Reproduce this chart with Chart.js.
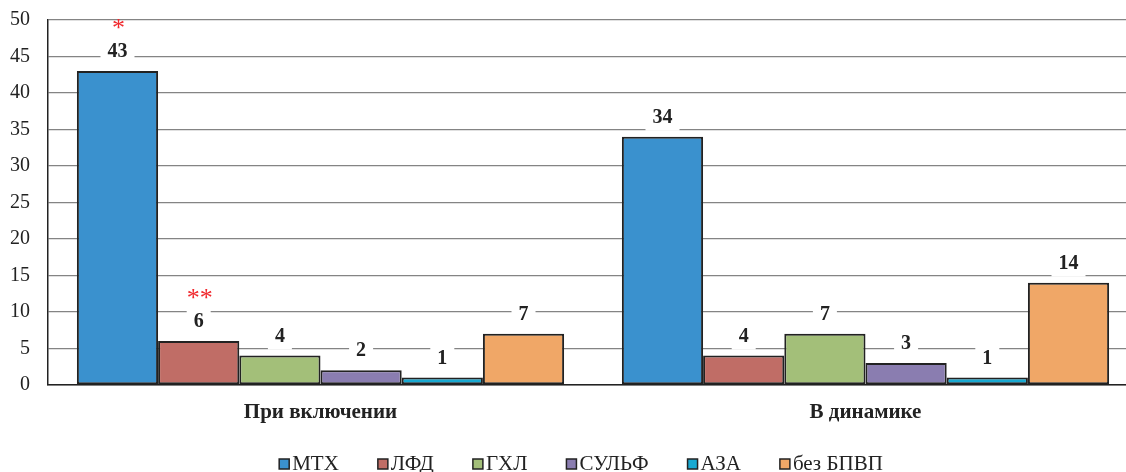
<!DOCTYPE html>
<html>
<head>
<meta charset="utf-8">
<script src="https://cdn.jsdelivr.net/npm/chart.js@4.4.1/dist/chart.umd.min.js"></script>
<style>
  html, body { margin: 0; padding: 0; background: #fff; overflow: hidden; }
  #wrap { width: 1140px; height: 482px; margin-top: -10px; }
</style>
</head>
<body>
<div id="wrap"><canvas id="chart" width="1140" height="482"></canvas></div>
<script>
// Groups along the x axis
const categories = ["При включении", "В динамике"];

// Treatment series (number of patients)
const seriesNames = ["МТХ", "ЛФД", "ГХЛ", "СУЛЬФ", "АЗА", "без БПВП"];
const mtx     = [43, 34];
const lfd     = [6, 4];
const hxl     = [4, 7];
const sulf    = [2, 3];
const aza     = [1, 1];
const noDmard = [7, 14];

// Significance marks shown above the value labels
const marksMtx = ["*", ""];
const marksLfd = ["**", ""];

// Y axis ticks
const yTicks = [0, 5, 10, 15, 20, 25, 30, 35, 40, 45, 50];

const colors = ["#3A91CE", "#C06D66", "#A3BF79", "#8A7DB0", "#19A9D1", "#F0A767"];
const values = [mtx, lfd, hxl, sulf, aza, noDmard];
const marks = [marksMtx, marksLfd, null, null, null, null];

const serif = "'Liberation Serif', 'Times New Roman', serif";

// Value labels on a white plate (it interrupts the grid lines), plus red significance marks
const valueLabels = {
  id: 'valueLabels',
  afterDatasetsDraw(chart) {
    const ctx = chart.ctx;
    ctx.save();
    ctx.textAlign = "center";
    ctx.textBaseline = "middle";
    chart.data.datasets.forEach((ds, di) => {
      const meta = chart.getDatasetMeta(di);
      meta.data.forEach((bar, i) => {
        const text = String(ds.data[i]);
        const cx = bar.x;
        const cy = bar.y - 20;
        ctx.font = "bold 20px " + serif;
        const tw = ctx.measureText(text).width;
        ctx.fillStyle = "#fff";
        ctx.fillRect(cx - tw / 2 - 7, cy - 14, tw + 14, 28);
        ctx.fillStyle = "#222";
        ctx.fillText(text, cx, cy + 1);
        const m = marks[di] && marks[di][i];
        if (m) {
          ctx.font = "26px " + serif;
          ctx.fillStyle = "#F0282D";
          ctx.fillText(m, cx + 1, cy - 22);
        }
      });
    });
    ctx.restore();
  }
};

// Legend row under the chart: small framed squares followed by the series name
const legendRow = {
  id: 'legendRow',
  afterDraw(chart) {
    const ctx = chart.ctx;
    const box = 10, gapText = 3, gapItem = 39, baseline = chart.height - 2, centerX = 581;
    ctx.save();
    ctx.font = "21px " + serif;
    const widths = seriesNames.map(n => ctx.measureText(n).width);
    const total = widths.reduce((s, w) => s + box + gapText + w, 0) + gapItem * (seriesNames.length - 1);
    let x = centerX - total / 2;
    ctx.textAlign = "left";
    ctx.textBaseline = "alphabetic";
    seriesNames.forEach((n, k) => {
      ctx.fillStyle = colors[k];
      ctx.fillRect(x, baseline - 11, box, box);
      ctx.strokeStyle = "#222";
      ctx.lineWidth = 1.5;
      ctx.strokeRect(x, baseline - 11, box, box);
      ctx.fillStyle = "#222";
      ctx.fillText(n, x + box + gapText, baseline);
      x += box + gapText + widths[k] + gapItem;
    });
    ctx.restore();
  }
};

new Chart(document.getElementById('chart'), {
  type: 'bar',
  data: {
    labels: categories,
    datasets: seriesNames.map((name, k) => ({
      label: name,
      data: values[k],
      backgroundColor: colors[k],
      borderColor: "#222",
      borderWidth: 2,
      borderSkipped: false,
      categoryPercentage: 0.894,
      barPercentage: 1.0
    }))
  },
  options: {
    responsive: false,
    animation: false,
    layout: { padding: { top: 0, right: 2, left: -8, bottom: 32 } },
    scales: {
      x: {
        grid: { display: false, drawTicks: false },
        border: { display: true, color: "#222", width: 1.5 },
        ticks: {
          color: "#222",
          padding: 15,
          font: { family: serif, size: 21, weight: 'bold' }
        }
      },
      y: {
        min: 0,
        max: 50,
        afterBuildTicks(axis) { axis.ticks = yTicks.map(v => ({ value: v })); },
        grid: { color: "#848484", lineWidth: 1.2, drawTicks: false },
        border: { display: true, color: "#222", width: 1.5 },
        ticks: {
          color: "#222",
          padding: 18,
          font: { family: serif, size: 20 }
        }
      }
    },
    plugins: {
      legend: { display: false },
      tooltip: { enabled: false }
    }
  },
  plugins: [valueLabels, legendRow]
});
</script>
</body>
</html>
